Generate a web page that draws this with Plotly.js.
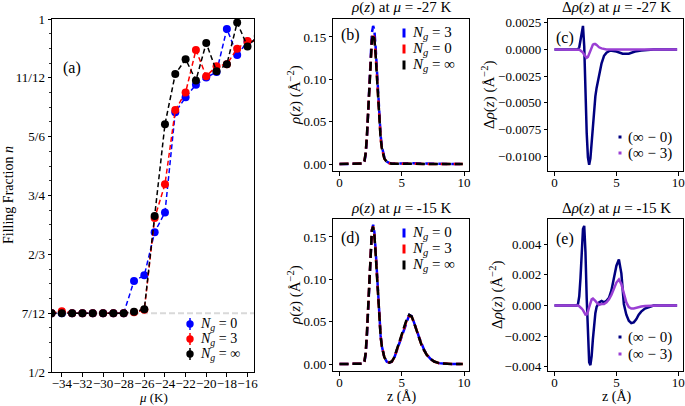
<!DOCTYPE html>
<html><head><meta charset="utf-8">
<script src="https://cdn.plot.ly/plotly-3.0.1.min.js"></script>
<style>html,body{margin:0;padding:0;background:#fff}</style>
</head><body>
<div id="chart" style="width:685px;height:406px"></div>
<script>
// ---------- Panel (a): filling fraction vs mu ----------
const mu = [-35,-34,-33,-32,-31,-30,-29,-28,-27,-26,-25,-24,-23,-22,-21,-20,-19,-18,-17,-16,-15];
const fillNg0   = [0.5833,0.5833,0.5833,0.5833,0.5833,0.5833,0.5833,0.5833,0.629,0.637,0.698,0.726,0.868,0.889,0.907,0.917,0.925,0.986,0.949,0.968,0.970];
const fillNg3   = [0.5833,0.586,0.5833,0.5833,0.5833,0.5833,0.5833,0.5833,0.5845,0.588,0.718,0.766,0.871,0.896,0.956,0.919,0.933,0.936,0.958,0.969,0.968];
const fillNgInf = [0.5833,0.5833,0.5833,0.5833,0.5833,0.5833,0.5833,0.5833,0.5854,0.589,0.721,0.851,0.922,0.943,0.913,0.966,0.926,0.936,0.995,0.961,0.976];
const fillRefLevel = 7/12;
const fillTickVals = [1/2, 7/12, 2/3, 3/4, 5/6, 11/12, 1];
const fillTickText = ['1/2','7/12','2/3','3/4','5/6','11/12','1'];
const muTickVals = [-34,-32,-30,-28,-26,-24,-22,-20,-18,-16];
const muTickText = ['\u221234','\u221232','\u221230','\u221228','\u221226','\u221224','\u221222','\u221220','\u221218','\u221216'];

// ---------- Panels (b),(c): mu = -27 K ----------
const z27 = [0,0.5,1.0,1.5,1.8,1.9,2.0,2.1,2.2,2.3,2.4,2.5,2.6,2.7,2.8,2.9,3.0,3.1,3.2,3.3,3.4,3.5,3.6,3.8,4.0,4.2,4.5,5.0,5.5,6.0,6.5,7.0,8.0,9.0,9.9];
const rho27Blue  = [0,0,0,0,0,0.0005,0.003,0.011,0.030,0.062,0.100,0.133,0.155,0.163,0.158,0.138,0.108,0.078,0.053,0.034,0.021,0.013,0.008,0.003,0.0012,0.0006,0.0004,0.0006,0.0009,0.0007,0.0003,0.0001,0,0,0];
const rho27Red   = [0,0,0,0,0,0.0006,0.0035,0.0131,0.0332,0.0653,0.1015,0.1297,0.1468,0.1537,0.1484,0.129,0.1007,0.0716,0.0485,0.0305,0.0186,0.0107,0.0063,0.0025,0.001,0.0005,0.0004,0.0006,0.0009,0.0007,0.0003,0.0001,0,0,0];
const rho27Black = [0,0,0,0,0,0.0006,0.0035,0.013,0.033,0.065,0.101,0.129,0.146,0.153,0.148,0.129,0.101,0.072,0.049,0.031,0.019,0.011,0.0065,0.0025,0.001,0.0005,0.0004,0.0006,0.0009,0.0007,0.0003,0.0001,0,0,0];
const drho27InfMinus0 = [0,0,0,0,0,0.00002,0.0002,0.0009,0.0019,0.0022,0.0003,-0.0042,-0.0078,-0.0101,-0.0108,-0.0102,-0.0086,-0.0068,-0.0054,-0.0044,-0.0036,-0.0030,-0.0024,-0.0013,-0.0006,-0.0003,-0.0001,-0.0002,-0.0004,-0.0004,-0.0002,-0.0001,0,0,0];
const drho27InfMinus3 = [0,0,0,0,0,0,-0.00002,-0.0001,-0.0002,-0.0003,-0.0005,-0.0007,-0.00078,-0.0007,-0.0004,0,0.0003,0.00045,0.0005,0.0005,0.00042,0.0003,0.0002,0.0001,0.00003,0,0,0,0,0,0,0,0,0,0];

// ---------- Panels (d),(e): mu = -15 K ----------
const z15 = [0,0.5,1.0,1.5,1.8,1.9,2.0,2.1,2.2,2.3,2.4,2.5,2.6,2.7,2.8,2.9,3.0,3.1,3.2,3.3,3.4,3.5,3.6,3.8,4.0,4.2,4.4,4.6,4.8,5.0,5.2,5.4,5.6,5.8,6.0,6.2,6.4,6.6,6.8,7.0,7.3,7.6,8.0,8.5,9.0,9.9];
const rho15Blue  = [0,0,0,0,0,0.0004,0.0024,0.0112,0.0324,0.066,0.1038,0.1365,0.1575,0.1644,0.1557,0.1349,0.1063,0.0772,0.0522,0.0335,0.0211,0.0129,0.0078,0.0027,0.0016,0.0027,0.0075,0.016,0.0242,0.0324,0.042,0.0509,0.0579,0.0566,0.049,0.0402,0.0311,0.0229,0.0166,0.0114,0.0062,0.0031,0.0011,0.0003,0,0];
const rho15Red   = [0,0,0,0,0,0.0005,0.003,0.0131,0.0362,0.0713,0.1095,0.1406,0.1586,0.1624,0.1521,0.1308,0.1026,0.0745,0.0506,0.0327,0.0208,0.0129,0.008,0.003,0.0018,0.0028,0.0076,0.0163,0.0249,0.0335,0.0433,0.0516,0.0572,0.0558,0.0481,0.0392,0.0302,0.0222,0.0161,0.0111,0.006,0.003,0.001,0.0003,0,0];
const rho15Black = [0,0,0,0,0,0.0005,0.003,0.013,0.036,0.071,0.109,0.140,0.158,0.162,0.152,0.131,0.103,0.075,0.051,0.033,0.021,0.013,0.008,0.003,0.0018,0.003,0.008,0.017,0.026,0.035,0.045,0.053,0.058,0.056,0.048,0.039,0.030,0.022,0.016,0.011,0.006,0.003,0.001,0.0003,0,0];
const drho15InfMinus0 = [0,0,0,0,0,0.0001,0.0006,0.0018,0.0036,0.0050,0.0052,0.0035,0.0005,-0.0024,-0.0037,-0.0039,-0.0033,-0.0022,-0.0012,-0.0005,-0.0001,0.0001,0.0002,0.0003,0.0002,0.0003,0.0005,0.0010,0.0018,0.0026,0.0030,0.0021,0.0001,-0.0006,-0.0010,-0.00115,-0.0011,-0.0009,-0.0006,-0.0004,-0.0002,-0.0001,0,0,0,0];
const drho15InfMinus3 = [0,0,0,0,0,0,-0.00005,-0.0001,-0.0002,-0.0003,-0.0005,-0.0006,-0.00058,-0.0004,-0.0001,0.0002,0.0004,0.00045,0.0004,0.0003,0.0002,0.0001,0.00005,0.0001,0.0001,0.0002,0.0004,0.0007,0.0011,0.0015,0.0017,0.0014,0.0008,0.0002,-0.0001,-0.0002,-0.0002,-0.00015,-0.0001,-0.00007,-0.00004,-0.00002,0,0,0,0];

const legendA  = ['<i>N</i><sub><i>g</i></sub> = 0','<i>N</i><sub><i>g</i></sub> = 3','<i>N</i><sub><i>g</i></sub> = \u221e'];
const legendB  = ['<i>N</i><sub><i>g</i></sub> = 3','<i>N</i><sub><i>g</i></sub> = 0','<i>N</i><sub><i>g</i></sub> = \u221e'];
const legendD  = ['<i>N</i><sub><i>g</i></sub> = 0','<i>N</i><sub><i>g</i></sub> = 3','<i>N</i><sub><i>g</i></sub> = \u221e'];
const legendCE = ['(\u221e \u2212 0)','(\u221e \u2212 3)'];

// ---------- styling ----------
const W = 685, H = 406;
const FONT = 'Liberation Serif, DejaVu Serif, serif';
const BLUE = '#0000ff', RED = '#ff0000', BLACK = '#000000', NAVY = '#000080', PURPLE = '#9a3fd4';
const px = v => v / W, py = v => 1 - v / H;

function axisBase(extra) {
  return Object.assign({
    showline: true, mirror: true, linecolor: '#000', linewidth: 1,
    ticks: 'outside', ticklen: 3.5, tickwidth: 1, tickcolor: '#000',
    showgrid: false, zeroline: false, tickangle: 0,
    tickfont: {family: FONT, size: 13, color: '#000'}
  }, extra);
}
const XS = {ticklabelposition: 'outside', ticklabelstandoff: -4};

const traces = [];
// (a)
[[fillNg0, BLUE], [fillNg3, RED], [fillNgInf, BLACK]].forEach(([y, c]) => {
  traces.push({x: mu, y: y, xaxis: 'x', yaxis: 'y', type: 'scatter', mode: 'lines+markers',
    line: {color: c, width: 1.5, dash: '5px,3px'}, marker: {color: c, size: 8}, showlegend: false});
});
// (b)
[[rho27Blue, BLUE], [rho27Red, RED], [rho27Black, BLACK]].forEach(([y, c]) => {
  traces.push({x: z27, y: y, xaxis: 'x2', yaxis: 'y2', type: 'scatter', mode: 'lines',
    line: {color: c, width: 2.5, dash: '9px,4px'}, showlegend: false});
});
// (c)
[[drho27InfMinus0, NAVY], [drho27InfMinus3, PURPLE]].forEach(([y, c]) => {
  traces.push({x: z27, y: y, xaxis: 'x3', yaxis: 'y3', type: 'scatter', mode: 'lines',
    line: {color: c, width: 2.5}, showlegend: false});
});
// (d)
[[rho15Blue, BLUE], [rho15Red, RED], [rho15Black, BLACK]].forEach(([y, c]) => {
  traces.push({x: z15, y: y, xaxis: 'x4', yaxis: 'y4', type: 'scatter', mode: 'lines',
    line: {color: c, width: 2.5, dash: '9px,4px'}, showlegend: false});
});
// (e)
[[drho15InfMinus0, NAVY], [drho15InfMinus3, PURPLE]].forEach(([y, c]) => {
  traces.push({x: z15, y: y, xaxis: 'x5', yaxis: 'y5', type: 'scatter', mode: 'lines',
    line: {color: c, width: 2.5}, showlegend: false});
});

const domA = [px(52), px(254)], domAy = [py(372), py(19)];
const domBx = [px(333.3), px(469)], domCx = [px(548.3), px(683.3)];
const domTop = [py(171), py(19)], domBot = [py(371), py(219)];
const zTicks = {tickvals: [0, 5, 10], ticktext: ['0', '5', '10'], tickmode: 'array'};
const fmt = (vals, d) => vals.map(v => (v < 0 ? '\u2212' : '') + Math.abs(v).toFixed(d));
const bVals = [0, 0.05, 0.10, 0.15];
const cVals = [-0.01, -0.0075, -0.005, -0.0025, 0, 0.0025];
const eVals = [-0.004, -0.002, 0, 0.002, 0.004];

const layout = {
  width: W, height: H, margin: {l: 0, r: 0, t: 0, b: 0},
  paper_bgcolor: '#fff', plot_bgcolor: '#fff', showlegend: false,
  font: {family: FONT, size: 13, color: '#000'},
  xaxis: axisBase(Object.assign({domain: domA, range: [-34.95, -15.37], tickmode: 'array', tickvals: muTickVals, ticktext: muTickText, anchor: 'y'}, XS)),
  yaxis: axisBase({domain: domAy, range: [0.5, 1.0], tickmode: 'array', tickvals: fillTickVals, ticktext: fillTickText, anchor: 'x',
    minor: {dtick: 1/48, tick0: 0.5, ticks: 'outside', ticklen: 2, tickcolor: '#000', tickwidth: 0.8}}),
  xaxis2: axisBase(Object.assign({domain: domBx, range: [-0.5, 10.4], anchor: 'y2'}, zTicks, XS)),
  yaxis2: axisBase({domain: domTop, range: [-0.0082, 0.1712], anchor: 'x2', tickmode: 'array', tickvals: bVals, ticktext: fmt(bVals, 2)}),
  xaxis3: axisBase(Object.assign({domain: domCx, range: [-0.5, 10.4], anchor: 'y3'}, zTicks, XS)),
  yaxis3: axisBase({domain: domTop, range: [-0.01138, 0.00285], anchor: 'x3', tickmode: 'array', tickvals: cVals, ticktext: fmt(cVals, 4)}),
  xaxis4: axisBase(Object.assign({domain: domBx, range: [-0.5, 10.4], anchor: 'y4'}, zTicks, XS)),
  yaxis4: axisBase({domain: domBot, range: [-0.0082, 0.1712], anchor: 'x4', tickmode: 'array', tickvals: bVals, ticktext: fmt(bVals, 2)}),
  xaxis5: axisBase(Object.assign({domain: domCx, range: [-0.5, 10.4], anchor: 'y5'}, zTicks, XS)),
  yaxis5: axisBase({domain: domBot, range: [-0.00428, 0.00565], anchor: 'x5', tickmode: 'array', tickvals: eVals, ticktext: fmt(eVals, 3)}),
  shapes: [], annotations: []
};

// reference level line in (a)
layout.shapes.push({type: 'line', layer: 'below', xref: 'x domain', yref: 'y', x0: 0, x1: 1, y0: fillRefLevel, y1: fillRefLevel,
  line: {color: '#d9d9d9', width: 2, dash: '6px,3px'}});

function ann(text, x, y, o) {
  o = o || {};
  return Object.assign({text: text, x: px(x), y: py(y), xref: 'paper', yref: 'paper', showarrow: false,
    xanchor: 'center', yanchor: 'middle', font: {family: FONT, size: o.size || 15, color: '#000'}}, o.extra || {});
}
const A = layout.annotations;
// titles
A.push(ann('<i>\u03c1</i>(<i>z</i>) at <i>\u03bc</i> = -27 K', 401, 8));
A.push(ann('\u0394<i>\u03c1</i>(<i>z</i>) at <i>\u03bc</i> = -27 K', 616, 8));
A.push(ann('<i>\u03c1</i>(<i>z</i>) at <i>\u03bc</i> = -15 K', 401, 208));
A.push(ann('\u0394<i>\u03c1</i>(<i>z</i>) at <i>\u03bc</i> = -15 K', 616, 208));
// axis titles
A.push(ann('Filling Fraction <i>n</i>', 8, 195, {size: 14, extra: {textangle: -90}}));
A.push(ann('<i>\u03bc</i> (K)', 153, 407, {size: 13, extra: {yanchor: 'bottom'}}));
A.push(ann('<i>\u03c1</i>(<i>z</i>) (\u00c5<sup>\u22122</sup>)', 294, 95, {extra: {textangle: -90}}));
A.push(ann('<i>\u03c1</i>(<i>z</i>) (\u00c5<sup>\u22122</sup>)', 294, 295, {extra: {textangle: -90}}));
A.push(ann('\u0394<i>\u03c1</i>(<i>z</i>) (\u00c5<sup>\u22122</sup>)', 488, 95, {extra: {textangle: -90}}));
A.push(ann('\u0394<i>\u03c1</i>(<i>z</i>) (\u00c5<sup>\u22122</sup>)', 496, 295, {extra: {textangle: -90}}));
A.push(ann('z (\u00c5)', 401, 407, {size: 14, extra: {yanchor: 'bottom'}}));
A.push(ann('z (\u00c5)', 616, 407, {size: 14, extra: {yanchor: 'bottom'}}));
// panel labels
A.push(ann('(a)', 72, 68, {size: 16}));
A.push(ann('(b)', 350, 35, {size: 16}));
A.push(ann('(c)', 565, 38, {size: 16}));
A.push(ann('(d)', 350, 238, {size: 16}));
A.push(ann('(e)', 565, 239, {size: 16}));

// legends (text + glyphs)
function legText(t, x, y, s) { return ann(t, x, y, {size: s || 14, extra: {xanchor: 'left'}}); }
function rectPx(x0, y0, x1, y1, c) {
  return {type: 'rect', xref: 'paper', yref: 'paper', x0: px(x0), x1: px(x1), y0: py(y1), y1: py(y0), fillcolor: c, line: {width: 0}};
}
// (a)
[[BLUE, 324], [RED, 339], [BLACK, 354]].forEach(([c, y], i) => {
  layout.shapes.push({type: 'line', xref: 'paper', yref: 'paper', x0: px(190), x1: px(190), y0: py(y - 6), y1: py(y + 6), line: {color: c, width: 1.5}});
  layout.shapes.push({type: 'circle', xref: 'paper', yref: 'paper', x0: px(186.3), x1: px(193.7), y0: py(y + 3.7), y1: py(y - 3.7), fillcolor: c, line: {width: 0}});
  A.push(legText(legendA[i], 198, y, 14));
});
// (b)
[[BLUE, 33], [RED, 49], [BLACK, 65]].forEach(([c, y], i) => {
  layout.shapes.push(rectPx(402.5, y - 4.5, 405.5, y + 4.5, c));
  A.push(legText(legendB[i], 410, y, 15));
});
// (d)
[[BLUE, 233], [RED, 249], [BLACK, 265]].forEach(([c, y], i) => {
  layout.shapes.push(rectPx(402.5, y - 4.5, 405.5, y + 4.5, c));
  A.push(legText(legendD[i], 410, y, 15));
});
// (c)
[[NAVY, 137], [PURPLE, 153]].forEach(([c, y], i) => {
  layout.shapes.push(rectPx(618.5, y - 1.5, 621.5, y + 1.5, c));
  A.push(legText(legendCE[i], 626, y, 15));
});
// (e)
[[NAVY, 337], [PURPLE, 354]].forEach(([c, y], i) => {
  layout.shapes.push(rectPx(618.5, y - 1.5, 621.5, y + 1.5, c));
  A.push(legText(legendCE[i], 626, y, 15));
});

Plotly.newPlot('chart', traces, layout, {staticPlot: true, displayModeBar: false});
</script>
</body></html>
